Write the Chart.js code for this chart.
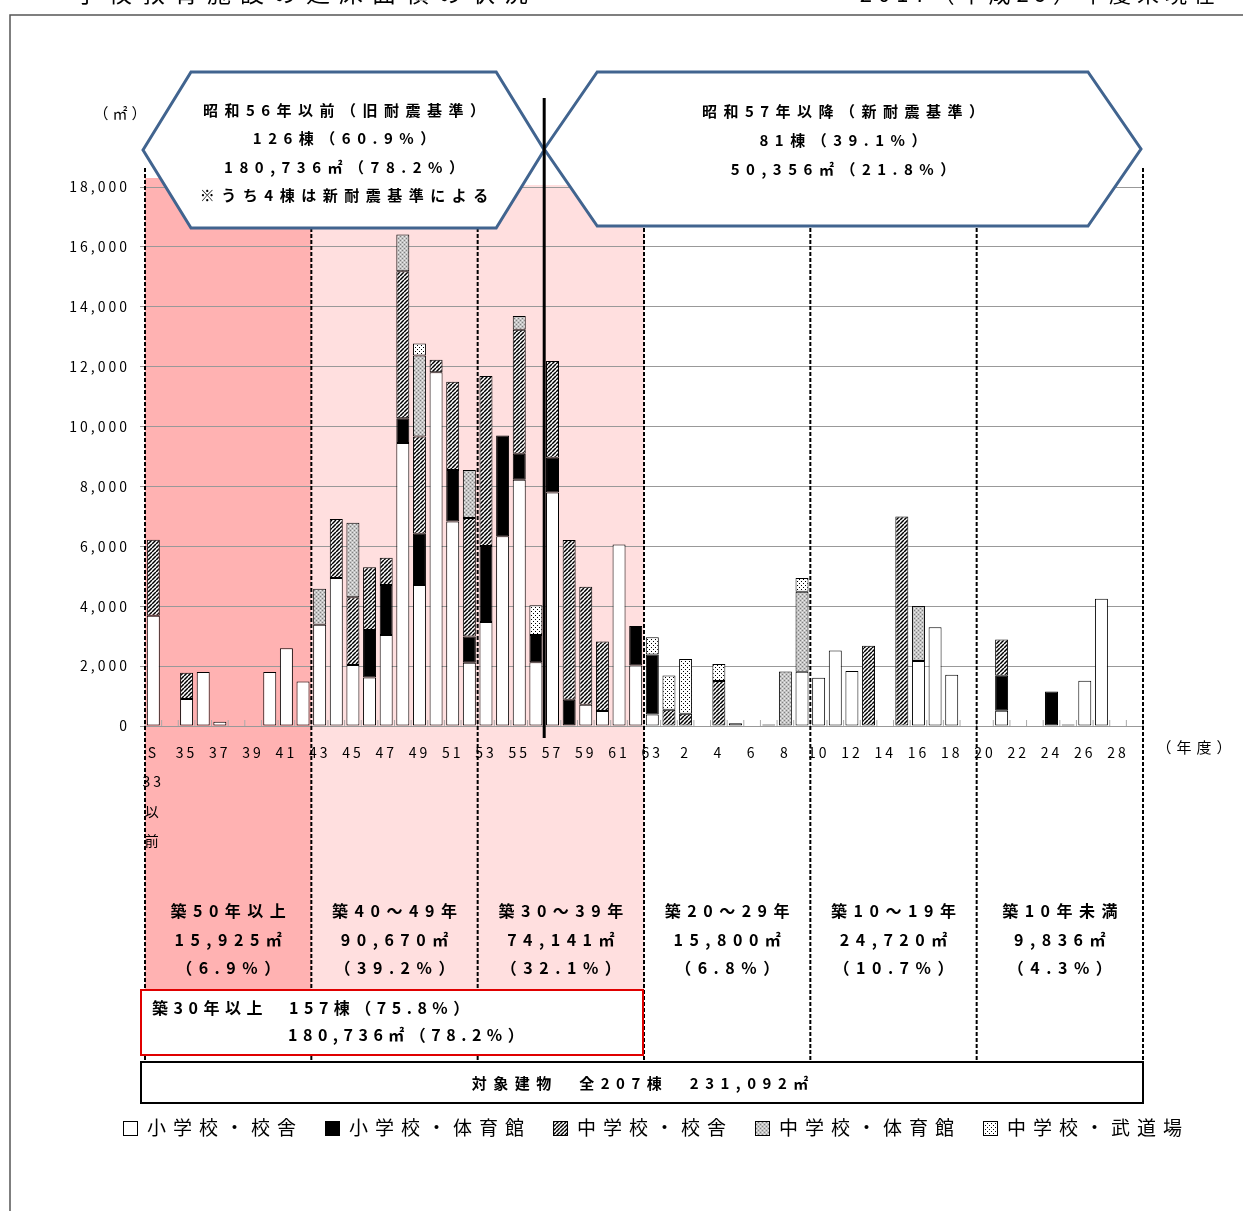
<!DOCTYPE html>
<html lang="ja">
<head>
<meta charset="utf-8">
<script src="https://cdn.jsdelivr.net/npm/chart.js@4.4.1/dist/chart.umd.min.js"></script>
<style>
  html, body { margin: 0; padding: 0; background: #fff; }
  #wrap { position: relative; width: 1243px; height: 1211px; }
</style>
</head>
<body>
<div id="wrap"><canvas id="chart"></canvas></div>
<script>
// 建築年度 (S33以前 ... H29)
const years = [
  'S33以前', '34', '35', '36', '37', '38', '39', '40', '41', '42',
  '43', '44', '45', '46', '47', '48', '49', '50', '51', '52',
  '53', '54', '55', '56', '57', '58', '59', '60', '61', '62',
  '63', '元', '2', '3', '4', '5', '6', '7', '8', '9',
  '10', '11', '12', '13', '14', '15', '16', '17', '18', '19',
  '20', '21', '22', '23', '24', '25', '26', '27', '28', '29'
];

// 延床面積 (㎡)
const elemBuilding = [
  3680, 0, 900, 1800, 140, 0, 0, 1800, 2600, 1490,
  3380, 4940, 2040, 1620, 3040, 9450, 4710, 11810, 6830, 2110,
  3470, 6340, 8220, 2130, 7800, 0, 710, 500, 6060, 2020,
  380, 0, 0, 0, 0, 90, 0, 50, 0, 1810,
  1610, 2520, 1840, 0, 0, 0, 2170, 3300, 1710, 0,
  0, 510, 0, 0, 0, 50, 1510, 4250, 0, 0
];
const elemGym = [
  0, 0, 0, 0, 0, 0, 0, 0, 0, 0,
  0, 0, 0, 1590, 1670, 830, 1710, 0, 1720, 880,
  2540, 3360, 870, 910, 1160, 880, 0, 0, 0, 1320,
  2010, 0, 0, 0, 0, 0, 0, 0, 0, 0,
  0, 0, 0, 0, 0, 0, 0, 0, 0, 0,
  0, 1170, 0, 0, 1150, 0, 0, 0, 0, 0
];
const juniorBuilding = [
  2540, 0, 880, 0, 0, 0, 0, 0, 0, 0,
  0, 1970, 2260, 2090, 910, 4910, 3250, 420, 2950, 3960,
  5680, 0, 4140, 0, 3230, 5330, 3940, 2320, 0, 0,
  0, 540, 410, 0, 1500, 0, 0, 0, 0, 0,
  0, 0, 0, 2680, 0, 7000, 0, 0, 0, 0,
  0, 1210, 0, 0, 0, 0, 0, 0, 0, 0
];
const juniorGym = [
  0, 0, 0, 0, 0, 0, 0, 0, 0, 0,
  1200, 0, 2490, 0, 0, 1220, 2700, 0, 0, 1600,
  0, 0, 460, 0, 0, 0, 0, 0, 0, 0,
  0, 0, 0, 0, 0, 0, 0, 0, 1820, 2670,
  0, 0, 0, 0, 0, 0, 1840, 0, 0, 0,
  0, 0, 0, 0, 0, 0, 0, 0, 0, 0
];
const juniorDojo = [
  0, 0, 0, 0, 0, 0, 0, 0, 0, 0,
  0, 0, 0, 0, 0, 0, 400, 0, 0, 0,
  0, 0, 0, 990, 0, 0, 0, 0, 0, 0,
  570, 1150, 1830, 0, 570, 0, 0, 0, 0, 460,
  0, 0, 0, 0, 0, 0, 0, 0, 0, 0,
  0, 0, 0, 0, 0, 0, 0, 0, 0, 0
];

const seriesNames = ['小学校・校舎', '小学校・体育館', '中学校・校舎', '中学校・体育館', '中学校・武道場'];

// 築年数の区分
const groupTitles = ['築50年以上', '築40～49年', '築30～39年', '築20～29年', '築10～19年', '築10年未満'];
const groupAreas = ['15,925㎡', '90,670㎡', '74,141㎡', '15,800㎡', '24,720㎡', '9,836㎡'];
const groupShares = ['（6.9%）', '（39.2%）', '（32.1%）', '（6.8%）', '（10.7%）', '（4.3%）'];

const oldStd = ['昭和56年以前（旧耐震基準）', '126棟（60.9%）', '180,736㎡（78.2%）', '※うち4棟は新耐震基準による'];
const newStd = ['昭和57年以降（新耐震基準）', '81棟（39.1%）', '50,356㎡（21.8%）'];

const FONT = '"Noto Sans CJK JP", sans-serif';

function makePattern(size, draw) {
  const c = document.createElement('canvas');
  c.width = c.height = size;
  const g = c.getContext('2d');
  draw(g, size);
  return g.createPattern(c, 'repeat');
}

const hatch = makePattern(4, (g, s) => {
  g.fillStyle = '#fff'; g.fillRect(0, 0, s, s);
  g.strokeStyle = '#000'; g.lineWidth = 1.5;
  for (const k of [-s, 0, s]) {
    g.beginPath(); g.moveTo(k, s); g.lineTo(k + s, 0); g.stroke();
  }
});
const stipple = makePattern(4, (g, s) => {
  g.fillStyle = '#c4c4c4'; g.fillRect(0, 0, s, s);
  g.fillStyle = '#808080'; g.fillRect(0, 0, 1, 1); g.fillRect(2, 2, 1, 1);
  g.fillStyle = '#ececec'; g.fillRect(2, 0, 1, 1); g.fillRect(0, 2, 1, 1);
});
const dots = makePattern(4, (g, s) => {
  g.fillStyle = '#fff'; g.fillRect(0, 0, s, s);
  g.fillStyle = '#000'; g.fillRect(1, 1, 1, 1); g.fillRect(3, 3, 1, 1);
});

function text(ctx, s, x, y, o = {}) {
  const size = o.size || 15, ls = o.ls ?? 5;
  ctx.font = (o.bold ? 'bold ' : '') + size + 'px ' + FONT;
  ctx.letterSpacing = '0px';
  const w = ctx.measureText(s).width + ls * [...s].length;
  ctx.letterSpacing = ls + 'px';
  ctx.fillStyle = o.color || '#000';
  ctx.textBaseline = 'middle';
  ctx.textAlign = 'left';
  let x0 = x;
  if (o.align === 'center') x0 = x - (w - ls) / 2;
  else if (o.align === 'right') x0 = x - (w - ls);
  ctx.fillText(s, x0, y);
  return w;
}

function hexagon(ctx, l, r, t, b, inset) {
  const m = (t + b) / 2;
  ctx.beginPath();
  ctx.moveTo(l, m); ctx.lineTo(l + inset, t); ctx.lineTo(r - inset, t);
  ctx.lineTo(r, m); ctx.lineTo(r - inset, b); ctx.lineTo(l + inset, b);
  ctx.closePath();
  ctx.fillStyle = '#fff'; ctx.fill();
  ctx.strokeStyle = '#41648f'; ctx.lineWidth = 3; ctx.stroke();
}

const decor = {
  id: 'decor',
  beforeDraw(chart) {
    const { ctx } = chart;
    const x = chart.scales.x;
    const cw = x.getPixelForValue(1) - x.getPixelForValue(0);
    const edge = i => x.getPixelForValue(0) + (i - 0.5) * cw;
    ctx.save();
    ctx.fillStyle = '#ffb2b2';
    ctx.fillRect(edge(0), 178, edge(10) - edge(0), 990 - 178);
    ctx.fillStyle = '#ffdfdf';
    ctx.fillRect(edge(10), 185, edge(30) - edge(10), 990 - 185);
    ctx.restore();
    ctx.letterSpacing = '3px';
  },
  afterDraw(chart) {
    const { ctx } = chart;
    const x = chart.scales.x, y = chart.scales.y;
    const cw = x.getPixelForValue(1) - x.getPixelForValue(0);
    const edge = i => x.getPixelForValue(0) + (i - 0.5) * cw;
    const y0 = y.getPixelForValue(0);
    ctx.save();

    // page frame and cut-off heading
    ctx.strokeStyle = '#555'; ctx.lineWidth = 1.5;
    ctx.strokeRect(10, 15, 1260, 1230);
    text(ctx, '学校教育施設の延床面積の状況', 75, -7, { size: 24, ls: 9 });
    text(ctx, '2017（平成29）年度末現在', 1215, -6, { size: 22, ls: 6, align: 'right' });

    // small category ticks on the axis
    ctx.strokeStyle = '#aaa'; ctx.lineWidth = 1;
    for (let i = 0; i <= years.length; i++) {
      ctx.beginPath(); ctx.moveTo(edge(i), y0); ctx.lineTo(edge(i), y0 - 6); ctx.stroke();
    }

    // dashed group dividers
    ctx.strokeStyle = '#000'; ctx.lineWidth = 2; ctx.setLineDash([4, 2]);
    for (const i of [0, 10, 20, 30, 40, 50, 60]) {
      ctx.beginPath(); ctx.moveTo(edge(i), 168); ctx.lineTo(edge(i), 1062); ctx.stroke();
    }
    ctx.setLineDash([]);

    // callouts
    hexagon(ctx, 143, edge(24), 72, 228, 48);
    hexagon(ctx, edge(24), 1141, 72, 226, 53);
    [110, 138, 167, 195].forEach((yy, k) => text(ctx, oldStd[k], 344, yy, { size: 15, ls: 6.5, bold: true, align: 'center' }));
    [111, 140, 169].forEach((yy, k) => text(ctx, newStd[k], 843, yy, { size: 15, ls: 6.5, bold: true, align: 'center' }));

    // S56 / S57 boundary
    ctx.strokeStyle = '#000'; ctx.lineWidth = 3;
    ctx.beginPath(); ctx.moveTo(edge(24), 98); ctx.lineTo(edge(24), 738); ctx.stroke();

    // axis captions
    text(ctx, '（㎡）', 120, 113, { size: 15, ls: 4, align: 'center' });
    text(ctx, '（年度）', 1194, 747, { size: 15, ls: 5, align: 'center' });

    // group summaries
    for (let g = 0; g < 6; g++) {
      const cx = (edge(g * 10) + edge(g * 10 + 10)) / 2;
      text(ctx, groupTitles[g], cx, 911, { size: 16, ls: 6.5, bold: true, align: 'center' });
      text(ctx, groupAreas[g], cx, 940, { size: 16, ls: 6.5, bold: true, align: 'center' });
      text(ctx, groupShares[g], cx, 968, { size: 16, ls: 6.5, bold: true, align: 'center' });
    }

    // 築30年以上 box
    ctx.fillStyle = '#fff'; ctx.fillRect(141, 990, 502, 65);
    ctx.strokeStyle = '#e00000'; ctx.lineWidth = 2; ctx.strokeRect(141, 990, 502, 65);
    text(ctx, '築30年以上', 152, 1008, { size: 16, ls: 5.5, bold: true });
    text(ctx, '157棟（75.8%）', 289, 1008, { size: 16, ls: 5.5, bold: true });
    text(ctx, '180,736㎡（78.2%）', 288, 1035, { size: 16, ls: 5.5, bold: true });

    // total box
    ctx.fillStyle = '#fff'; ctx.fillRect(141, 1062, 1002, 41);
    ctx.strokeStyle = '#000'; ctx.lineWidth = 2; ctx.strokeRect(141, 1062, 1002, 41);
    text(ctx, '対象建物　全207棟　231,092㎡', 640, 1083, { size: 15, ls: 6.5, bold: true, align: 'center' });

    // legend
    let lx = 123;
    chart.data.datasets.forEach(ds => {
      ctx.fillStyle = ds.backgroundColor;
      ctx.fillRect(lx, 1121, 15, 15);
      ctx.strokeStyle = '#000'; ctx.lineWidth = 1;
      ctx.strokeRect(lx + 0.5, 1121.5, 14, 14);
      const w = text(ctx, ds.label, lx + 24, 1128, { size: 19, ls: 7 });
      lx += 24 + w + 22;
    });

    ctx.restore();
  }
};

const barStyle = { borderColor: '#000', borderWidth: 1, borderSkipped: false, barPercentage: 0.78, categoryPercentage: 1 };

new Chart(document.getElementById('chart'), {
  type: 'bar',
  data: {
    labels: years,
    datasets: [
      { label: seriesNames[0], data: elemBuilding, backgroundColor: '#fff', ...barStyle },
      { label: seriesNames[1], data: elemGym, backgroundColor: '#000', ...barStyle },
      { label: seriesNames[2], data: juniorBuilding, backgroundColor: hatch, ...barStyle },
      { label: seriesNames[3], data: juniorGym, backgroundColor: stipple, ...barStyle },
      { label: seriesNames[4], data: juniorDojo, backgroundColor: dots, ...barStyle }
    ]
  },
  options: {
    responsive: true,
    maintainAspectRatio: false,
    animation: false,
    layout: { padding: { left: 0, top: 187, right: 100, bottom: 0 } },
    plugins: { legend: { display: false }, tooltip: { enabled: false } },
    scales: {
      x: {
        stacked: true,
        grid: { display: false, drawTicks: false },
        border: { display: true, color: '#999', width: 1 },
        ticks: {
          autoSkip: false, maxRotation: 0, minRotation: 0, padding: 12, color: '#000',
          font: { family: FONT, size: 14, lineHeight: 2.1 },
          callback(v, i) {
            if (i === 0) return ['S', '33', '以', '前'];
            return i % 2 === 0 ? this.getLabelForValue(v) : '';
          }
        },
        afterFit(s) { s.height = 485; }
      },
      y: {
        stacked: true, min: 0, max: 18000,
        border: { display: false },
        grid: { color: '#999', lineWidth: 1, tickLength: 5 },
        ticks: {
          stepSize: 2000, padding: 10, color: '#000',
          font: { family: FONT, size: 14 },
          callback: v => v.toLocaleString('en-US')
        },
        afterFit(s) { s.width = 145; }
      }
    }
  },
  plugins: [decor]
});
</script>
</body>
</html>
